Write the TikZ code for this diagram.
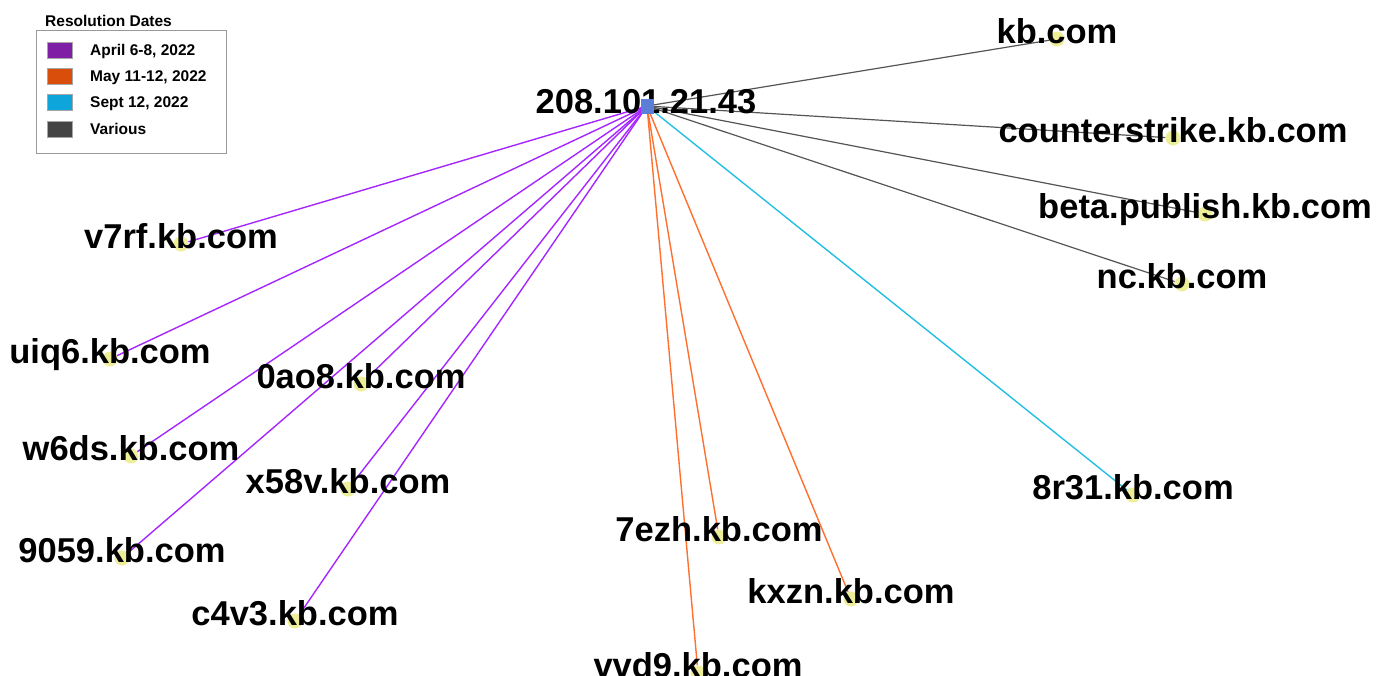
\documentclass[tikz,border=0pt]{standalone}
\usepackage{fontspec}
\setmainfont{Liberation Sans}
\usepackage{tikz}
\usetikzlibrary{backgrounds}

\definecolor{aprline}{HTML}{A526FF}
\definecolor{mayline}{HTML}{FF6F2E}
\definecolor{sepline}{HTML}{22BFE0}
\definecolor{varline}{HTML}{555555}
\definecolor{aprkey}{HTML}{7E1FA6}
\definecolor{maykey}{HTML}{D94E0A}
\definecolor{sepkey}{HTML}{0EA5DB}
\definecolor{varkey}{HTML}{444444}
\definecolor{hubblue}{HTML}{5B7FD8}
\definecolor{dotyellow}{HTML}{EEEE99}

\begin{document}
\begin{tikzpicture}[x=1pt, y=-1pt,
    dot/.style={circle, fill=dotyellow, inner sep=0pt, minimum size=15pt},
    lbl/.style={anchor=base, yshift=-4pt, inner sep=0pt, font=\bfseries\fontsize{34.5}{40}\selectfont},
    hubsq/.style={rectangle, fill=hubblue, inner sep=0pt, minimum width=13pt, minimum height=15pt},
    apr/.style={draw=aprline, line width=1.4pt},
    may/.style={draw=mayline, line width=1.4pt},
    sep/.style={draw=sepline, line width=1.4pt},
    var/.style={draw=varline, line width=1.2pt},
    swatch/.style={draw=gray!70, fill=#1, minimum width=25pt, minimum height=16pt, inner sep=0pt},
    keytext/.style={anchor=base west, inner sep=0pt, font=\bfseries\fontsize{15.5}{18}\selectfont}]
  \useasboundingbox (0,0) rectangle (1389,675);

  % legend
  \node[keytext] (keytitle) at (45,26) {Resolution Dates};
  \node[draw=gray!80, line width=0.8pt, minimum width=190pt, minimum height=123pt, inner sep=0pt] (keybox) at (131,91.5) {};
  \foreach \k/\c/\y/\t in {k1/aprkey/50/{April 6-8, 2022}, k2/maykey/76/{May 11-12, 2022},
                            k3/sepkey/102/{Sept 12, 2022}, k4/varkey/129/{Various}}
  {
    \node[swatch=\c] (\k) at (59.5,\y) {};
    \node[keytext] (\k-t) at (90,\y+5) {\t};
  }

  % hub
  \node[lbl, yshift=4pt] (hub-l) at (646,113) {208.101.21.43};
  \node[hubsq] (hub) at (647,106) {};

  % domains
  \foreach \n/\x/\y/\t in {kb/1057/39/kb.com, cs/1173/138/counterstrike.kb.com,
                            bp/1205/214/beta.publish.kb.com, nc/1182/284/nc.kb.com,
                            v7rf/181/244/v7rf.kb.com, uiq6/110/359/uiq6.kb.com,
                            0ao8/361/384/0ao8.kb.com, w6ds/131/456/w6ds.kb.com,
                            x58v/348/489/x58v.kb.com, 9059/122/558/9059.kb.com,
                            c4v3/295/621/c4v3.kb.com, 7ezh/719/537/7ezh.kb.com,
                            kxzn/851/599/kxzn.kb.com, vvd9/698/673/vvd9.kb.com,
                            8r31/1133/495/8r31.kb.com}
  {
    \node[dot] (\n) at (\x,\y) {};
    \node[lbl] (\n-l) at (\n) {\t};
  }

  \begin{scope}[on background layer]
    \path (hub.center) edge[var] (kb) edge[var] (cs) edge[var] (bp) edge[var] (nc);
    \path (hub.center) edge[apr] (v7rf) edge[apr] (uiq6) edge[apr] (0ao8) edge[apr] (w6ds)
                       edge[apr] (x58v) edge[apr] (9059) edge[apr] (c4v3);
    \path (hub.center) edge[may] (7ezh) edge[may] (kxzn) edge[may] (vvd9);
    \path (hub.center) edge[sep] (8r31);
  \end{scope}
\end{tikzpicture}
\end{document}
